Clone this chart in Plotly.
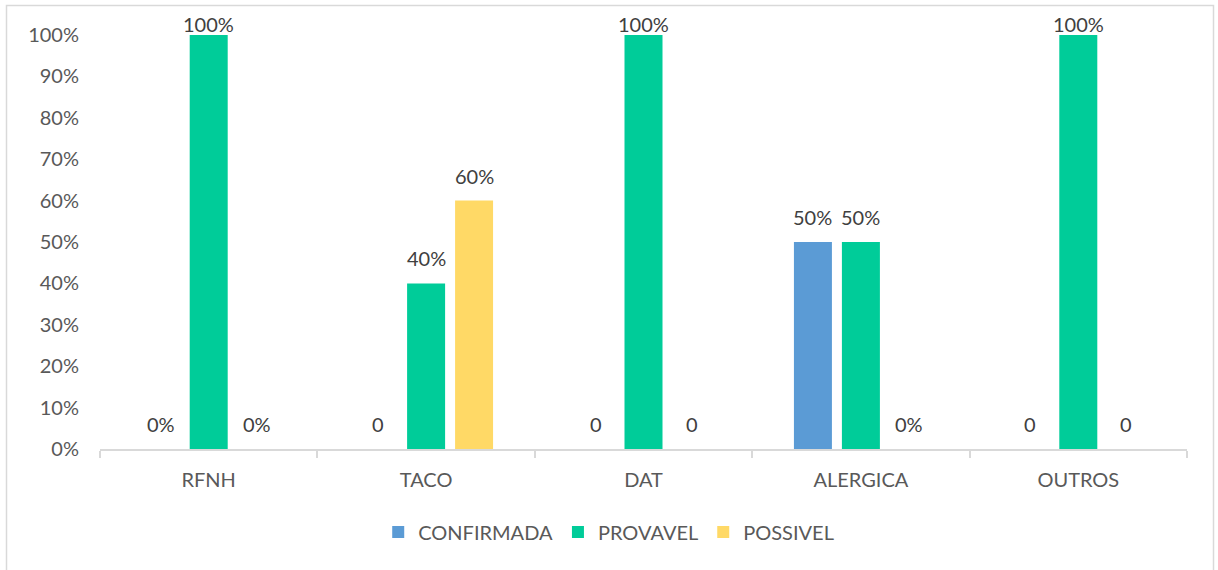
import plotly.graph_objects as go

# Categories and series values (percent)
categories = ["RFNH", "TACO", "DAT", "ALERGICA", "OUTROS"]
series_names = ["CONFIRMADA", "PROVAVEL", "POSSIVEL"]
confirmada = [0, 0, 0, 50, 0]
provavel = [100, 40, 100, 50, 100]
possivel = [0, 60, 0, 0, 0]

# Data label texts as stored in the source table
confirmada_labels = ["0%", "0", "0", "50%", "0"]
provavel_labels = ["100%", "40%", "100%", "50%", "100%"]
possivel_labels = ["0%", "60%", "0", "0%", "0"]

y_ticks = list(range(0, 101, 10))

colors = ["#5B9BD5", "#00CC99", "#FFD966"]
FONT = "Lato"

values = [confirmada, provavel, possivel]
labels = [confirmada_labels, provavel_labels, possivel_labels]

fig = go.Figure()
for name, vals, col in zip(series_names, values, colors):
    fig.add_trace(go.Bar(
        name=name, x=categories, y=vals,
        marker=dict(color=col, line=dict(width=0)),
        hoverinfo="skip",
    ))

# Data labels above each bar, one per series slot in a group
slot_px = 48
annotations = []
for i, (vals, labs) in enumerate(zip(values, labels)):
    for cat, v, t in zip(categories, vals, labs):
        annotations.append(dict(
            x=cat, y=v, xref="x", yref="y", text=t, showarrow=False,
            xshift=(i - 1) * slot_px, yshift=25 if v < 95 else 11,
            yanchor="middle", xanchor="center",
            font=dict(family=FONT, size=20, color="#404040"),
        ))

# Chart frame
shapes = [dict(
    type="rect", xref="paper", yref="paper",
    x0=(6.5 - 100) / 1087, x1=(1213.5 - 100) / 1087,
    y0=(449 - 575) / 414, y1=(449 - 5.5) / 414,
    line=dict(color="#D9D9D9", width=1.5), fillcolor="rgba(0,0,0,0)",
    layer="below",
)]

fig.update_layout(
    width=1218, height=570,
    margin=dict(l=100, r=31, t=35, b=121),
    paper_bgcolor="white", plot_bgcolor="white",
    barmode="group", bargap=0.338, bargroupgap=0.208,
    font=dict(family=FONT, size=20, color="#595959"),
    showlegend=True,
    legend=dict(
        orientation="h", x=0.468, xanchor="center",
        y=(449 - 532) / 414, yanchor="middle",
        font=dict(family=FONT, size=20, color="#595959"),
        itemwidth=30, traceorder="normal",
    ),
    annotations=annotations,
    shapes=shapes,
    xaxis=dict(
        type="category", showgrid=False,
        showline=True, linecolor="#D9D9D9", linewidth=1.5,
        ticks="outside", tickson="boundaries", ticklen=7,
        tickcolor="#D9D9D9", tickwidth=1.5,
        tickfont=dict(family=FONT, size=20, color="#595959"),
        ticklabelstandoff=12,
    ),
    yaxis=dict(
        range=[0, 100], tickvals=y_ticks,
        ticktext=[f"{v}%" for v in y_ticks],
        showgrid=False, zeroline=False, showline=False,
        ticks="", ticklabelstandoff=20,
        tickfont=dict(family=FONT, size=20, color="#595959"),
    ),
)

fig.write_html("out.html")
